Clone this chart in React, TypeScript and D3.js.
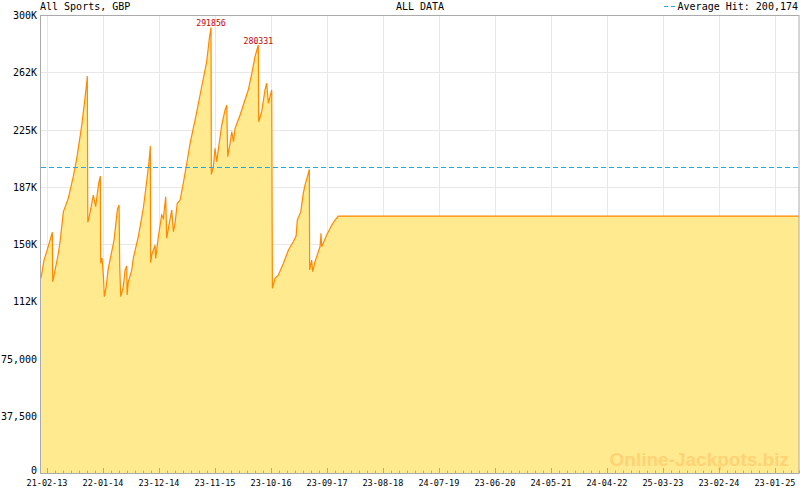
import * as d3 from 'd3'

// Jackpot history (day offset from 21 Feb 2013, value in GBP)
const START = new Date(2013, 1, 21)
const dayOffsets = [
  -36, -18, -2, 32, 34, 40, 66, 78, 98, 127, 157, 178, 208, 227, 238, 241,
  244, 251, 277, 291, 301, 309, 319, 321, 329, 337, 343, 353, 365, 383, 401, 421,
  431, 435, 441, 456, 467, 477, 479, 486, 507, 516, 546, 576, 596, 610, 618, 620,
  626, 646, 650, 666, 686, 696, 710, 716, 726, 746, 756, 766, 779, 796, 815, 836,
  855, 896, 925, 955, 971, 981, 983, 995, 1005, 1015, 1031, 1045, 1065, 1075, 1081, 1095,
  1105, 1115, 1125, 1155, 1184, 1204, 1225, 1244, 1264, 1266, 1284, 1304, 1314, 1324, 1334, 1344,
  1348, 1364, 1384, 1414, 1444, 1473, 1490, 1497, 1518, 1533, 1543, 1563, 1569, 1571, 1583, 1589,
  1603, 1633, 1639, 1643, 1673, 1703, 1723, 1743, 4498,
]
const jackpot = [
  127700, 139500, 145000, 157700, 125300, 128400, 142800, 151500, 171200, 179900, 194100, 206100, 227900, 245400, 256300, 260000,
  164200, 167000, 182100, 174400, 183200, 189800, 194500, 137400, 140800, 129700, 115500, 121200, 133000, 142800, 152600, 172700,
  175500, 135100, 115500, 122000, 133000, 135600, 116600, 125100, 133000, 140600, 154800, 173400, 190800, 203900, 214200, 137700,
  142800, 149300, 140600, 154800, 169000, 166800, 181000, 153700, 160300, 172300, 158100, 163600, 176700, 178800, 189800, 202900,
  215500, 236700, 253000, 269400, 284700, 291856, 195600, 200600, 212700, 203900, 217000, 227900, 237800, 241000, 207200, 216000,
  223600, 217000, 225800, 234500, 244300, 250900, 261800, 272700, 280331, 230100, 236700, 250900, 255300, 242200, 246500, 250900,
  121000, 127500, 129700, 137400, 146100, 151500, 155200, 165700, 171200, 183200, 188600, 196300, 198900, 133000, 139500, 131900,
  138400, 148200, 157000, 148200, 155900, 162400, 165700, 168300, 168300,
]
const peakValues = [291856, 280331]
const AVG_HIT = 200174

const xTickLabels = [
  '21-02-13', '22-01-14', '23-12-14', '23-11-15', '23-10-16', '23-09-17', '23-08-18',
  '24-07-19', '23-06-20', '24-05-21', '24-04-22', '25-03-23', '23-02-24', '23-01-25',
]
const yTicks = [0, 37500, 75000, 112500, 150000, 187500, 225000, 262500, 300000]
const yTickLabels = ['0', '37,500', '75,000', '112K', '150K', '187K', '225K', '262K', '300K']

const W = 800, H = 490
const PL = 41, PR = 799, PT = 15, PB = 473
const FONT = '"DejaVu Sans Mono", monospace'
const BLUE = '#1fa8e6'

export default function App() {
  const data = dayOffsets.map((d, i) => ({ date: d3.timeDay.offset(START, d), value: jackpot[i] }))
  const parse = d3.timeParse('%d-%m-%y')
  const xTicks = xTickLabels.map(s => parse(s) as Date)

  const x = d3.scaleTime().domain([data[0].date, data[data.length - 1].date]).range([PL, PR])
  const y = d3.scaleLinear().domain([0, 300000]).range([PB, PT])

  const line = d3.line<{ date: Date; value: number }>().x(d => x(d.date)).y(d => y(d.value))
  const area = d3.area<{ date: Date; value: number }>().x(d => x(d.date)).y0(PB).y1(d => y(d.value))

  // minor ticks: 7 divisions per major interval
  const px = xTicks.map(t => x(t))
  const step = (px[px.length - 1] - px[0]) / (px.length - 1) / 7
  const minor: number[] = []
  for (let k = 1; px[0] + k * step < PR; k++) {
    if (k % 7 !== 0) minor.push(px[0] + k * step)
  }

  const peaks = peakValues.map(v => data.find(d => d.value === v)!)
  const avgY = Math.round(y(AVG_HIT)) + 0.5

  return (
    <svg width={W} height={H} style={{ position: 'absolute', left: 0, top: 0, background: '#fff' }}>
      {/* grid */}
      {yTicks.slice(1, -1).map(t => (
        <line key={t} x1={PL} x2={PR} y1={Math.round(y(t)) + 0.5} y2={Math.round(y(t)) + 0.5} stroke="#e8e8e8" />
      ))}
      {px.map((p, i) => (
        <line key={i} x1={Math.round(p) + 0.5} x2={Math.round(p) + 0.5} y1={PT} y2={PB} stroke="#e8e8e8" />
      ))}

      <path d={area(data)!} fill="#ffea8f" />
      <text x={789} y={466} textAnchor="end" fontFamily='"Liberation Sans", Arial, sans-serif'
        fontWeight="bold" fontSize={19} fill="#ffd275">Online-Jackpots.biz</text>
      <path d={line(data)!} fill="none" stroke="#ff8800" strokeWidth={1.2} />

      <line x1={PL} x2={PR} y1={avgY} y2={avgY} stroke={BLUE} strokeDasharray="5,3" />

      {peaks.map(p => (
        <text key={p.value} x={x(p.date)} y={y(p.value) - 1} textAnchor="middle" fontFamily={FONT}
          fontSize={8.2} fill="#cc0000">{p.value}</text>
      ))}

      {/* frame */}
      <rect x={40.5} y={PT + 0.5} width={PR - 40.5} height={PB - PT} fill="none" stroke="#aaaaaa" />

      {/* x axis ticks + labels */}
      {px.map((p, i) => (
        <g key={i}>
          <line x1={Math.round(p) + 0.5} x2={Math.round(p) + 0.5} y1={PB} y2={PB - 5} stroke="#aaaaaa" />
          <text x={p} y={486} textAnchor="middle" fontFamily={FONT} fontSize={8.5} fill="#000">{xTickLabels[i]}</text>
        </g>
      ))}
      {minor.map((p, i) => (
        <line key={i} x1={Math.round(p) + 0.5} x2={Math.round(p) + 0.5} y1={PB} y2={PB - 2.5} stroke="#aaaaaa" />
      ))}

      {/* y labels */}
      {yTicks.map((t, i) => (
        <text key={t} x={37} y={i === 0 ? y(t) + 1 : y(t)} dy={i === 0 ? 0 : '0.4em'} textAnchor="end"
          fontFamily={FONT} fontSize={10} fill="#000">
          {yTickLabels[i]}
        </text>
      ))}

      {/* header */}
      <text x={40} y={10} fontFamily={FONT} fontSize={10} fill="#000">All Sports, GBP</text>
      <text x={420} y={10} textAnchor="middle" fontFamily={FONT} fontSize={10} fill="#000">ALL DATA</text>
      <line x1={664} x2={678} y1={6.5} y2={6.5} stroke={BLUE} strokeDasharray="4,3" />
      <text x={798} y={10} textAnchor="end" fontFamily={FONT} fontSize={10} fill="#000">Average Hit: {d3.format(',')(AVG_HIT)}</text>
    </svg>
  )
}
